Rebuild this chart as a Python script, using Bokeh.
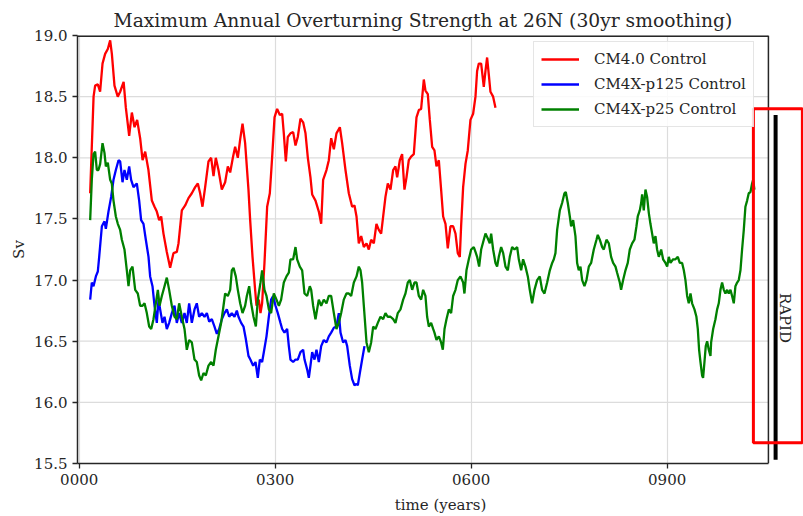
import numpy as np
from bokeh.plotting import figure
from bokeh.models import Range1d, FixedTicker, Legend, LegendItem, PrintfTickFormatter
from bokeh.embed import file_html
from bokeh.resources import INLINE
from bokeh.core.properties import value

# --- data: maximum AMOC strength at 26N, 30-yr smoothed (Sv) ---
cm40_years = [16.8, 22, 24.4, 28.5, 32, 35.7, 39.7, 43.8, 47.4, 50, 54, 59, 62.7, 68, 71.4, 76.5,
              80.6, 84.7, 88.7, 93.3, 97, 101, 106, 111.2, 115.3, 118.8, 122.4, 125.5, 129, 134.1,
              139.2, 144.3, 149.4, 152, 157.1, 162.2, 167.3, 172.4, 177.5, 181.6, 185.1, 188.7,
              192.8, 197.9, 202, 205.6, 209.1, 213.2, 218.3, 223.4, 227.5, 231.1, 235.2, 238.7,
              242.8, 246.4, 250, 254, 259.1, 261.7, 265.3, 269.3, 271.4, 275, 277.5, 280, 283.6,
              287.7, 291.8, 295.4, 299, 303, 307.1, 310.7, 313.2, 316.3, 319.3, 323.4, 327.5,
              331.1, 334.6, 338.7, 342.8, 346.4, 350, 354, 356.6, 361.7, 366.8, 370.4, 373.4,
              378.5, 382.1, 385.7, 389.8, 393.8, 399, 402.5, 407.6, 412.7, 417.8, 421.4, 424.5,
              428, 431.6, 435.7, 439.8, 443.3, 446.9, 451, 455, 458.6, 462.2, 465.3, 468.8, 472.4,
              476.5, 480.6, 484.1, 486.7, 490.8, 494.3, 497.9, 501, 504.5, 508.1, 512.2, 516.3,
              519.9, 523.4, 527.5, 530, 533.6, 536.7, 540.3, 543.8, 546.9, 550.5, 554, 557.1,
              560.7, 564.2, 568.3, 572.4, 576, 579.5, 582.6, 584.6, 587.7, 591.3, 594.8, 598.9,
              603, 606.6, 609.1, 611.7, 615.3, 619.3, 621.9, 624.4, 627, 629.5, 633.6, 637.2]
cm40_sv = [17.71, 18.50, 18.59, 18.60, 18.54, 18.77, 18.85, 18.89, 18.96, 18.85, 18.59, 18.50,
           18.54, 18.62, 18.41, 18.18, 18.37, 18.25, 18.31, 18.16, 17.98, 18.05, 17.90, 17.65,
           17.60, 17.56, 17.49, 17.52, 17.38, 17.23, 17.10, 17.22, 17.23, 17.30, 17.57, 17.61,
           17.67, 17.71, 17.76, 17.79, 17.71, 17.60, 17.76, 17.97, 18.00, 17.85, 18.00, 17.90,
           17.74, 17.80, 17.93, 17.88, 18.00, 18.09, 18.00, 18.15, 18.28, 18.12, 17.74, 17.49,
           17.19, 16.92, 16.79, 16.84, 16.73, 16.81, 17.14, 17.60, 17.71, 18.01, 18.33, 18.40,
           18.35, 18.36, 18.20, 17.97, 18.17, 18.20, 18.21, 18.10, 18.17, 18.32, 18.29, 18.20,
           18.00, 17.84, 17.70, 17.65, 17.56, 17.46, 17.82, 17.90, 17.98, 18.16, 18.07, 18.20,
           18.25, 18.12, 17.90, 17.71, 17.60, 17.61, 17.52, 17.30, 17.36, 17.27, 17.30, 17.25,
           17.33, 17.30, 17.46, 17.41, 17.38, 17.52, 17.68, 17.79, 17.74, 17.90, 17.93, 17.84,
           17.98, 18.03, 17.74, 17.84, 17.98, 18.01, 18.03, 18.33, 18.39, 18.40, 18.64, 18.55,
           18.52, 18.31, 18.09, 18.06, 17.93, 17.98, 17.74, 17.52, 17.46, 17.26, 17.44, 17.44,
           17.38, 17.22, 17.19, 17.44, 17.76, 17.95, 18.06, 18.31, 18.36, 18.50, 18.71, 18.77,
           18.77, 18.58, 18.71, 18.82, 18.68, 18.54, 18.50, 18.41]

p125_years = [16.8, 19.3, 21.9, 25.5, 28.5, 30.6, 34.7, 38.7, 40.8, 44.8, 48.9, 52.5, 56.1, 60.2,
              62.7, 66.3, 69.3, 72.9, 76.5, 79.5, 83.1, 88.2, 91.8, 94.8, 98.4, 102, 106.1, 108.6,
              112.2, 115.3, 118.8, 121.4, 123.9, 127.5, 130.6, 134.1, 137.7, 141.8, 145.9, 149.4,
              153, 157.1, 161.2, 164.7, 168.3, 172.4, 176.5, 180, 183.6, 187.7, 191.8, 195.4, 199,
              203, 207.1, 210.7, 214.2, 218.3, 222.4, 226, 229.6, 233.6, 237.7, 241.3, 243.8,
              247.9, 251.5, 255, 259.1, 262, 266.3, 269.9, 273.4, 276.5, 280, 282.6, 286.7, 290.3,
              293.8, 296.9, 300.5, 304, 308.1, 310.7, 314.2, 318.3, 320.9, 323.4, 327.5, 331.1,
              334.6, 338.7, 342.8, 344.9, 348.9, 351.5, 354, 356.6, 360.2, 363.2, 366.8, 370.4,
              374.4, 378.5, 382.1, 385.7, 389.8, 393.8, 397.4, 400, 404, 407.6, 410.2, 414.2,
              417.8, 421.4, 424.5, 426.5, 429.6, 433.1, 436.7]
p125_sv = [16.84, 16.98, 16.95, 17.03, 17.07, 17.19, 17.44, 17.48, 17.42, 17.56, 17.68, 17.82,
           17.90, 17.98, 17.97, 17.80, 17.90, 17.82, 17.93, 17.82, 17.76, 17.79, 17.65, 17.49,
           17.46, 17.33, 17.19, 17.03, 16.95, 16.79, 16.65, 16.84, 16.76, 16.65, 16.70, 16.60,
           16.65, 16.73, 16.79, 16.65, 16.73, 16.65, 16.73, 16.65, 16.81, 16.65, 16.76, 16.81,
           16.70, 16.73, 16.70, 16.73, 16.66, 16.68, 16.62, 16.56, 16.60, 16.68, 16.73, 16.76,
           16.70, 16.73, 16.70, 16.75, 16.70, 16.65, 16.62, 16.52, 16.38, 16.35, 16.30, 16.33,
           16.20, 16.35, 16.33, 16.41, 16.54, 16.70, 16.84, 16.87, 16.79, 16.73, 16.65, 16.60,
           16.57, 16.60, 16.46, 16.35, 16.33, 16.35, 16.35, 16.41, 16.43, 16.35, 16.27, 16.20,
           16.30, 16.41, 16.35, 16.43, 16.33, 16.46, 16.51, 16.49, 16.54, 16.57, 16.61, 16.62,
           16.73, 16.57, 16.49, 16.51, 16.46, 16.30, 16.19, 16.14, 16.15, 16.14, 16.24, 16.35,
           16.46]

p25_years = [16.8, 19.3, 21.9, 24.4, 27, 29.5, 32.1, 35.7, 38.7, 40.8, 43.8, 47.4, 49.9, 52.5,
             56.1, 59.1, 62.7, 65.3, 69.3, 72.9, 75.5, 78, 81.6, 85.7, 89.7, 93.3, 96.9, 100,
             103.5, 107.1, 110.2, 113.7, 117.3, 120.4, 123, 126.5, 130.6, 134.1, 137.7, 141.8,
             145.9, 149.4, 153, 157.1, 161.2, 164.7, 168.3, 172.4, 176.5, 180, 183.6, 186.7,
             190.3, 193.8, 197.9, 202, 205.6, 209.1, 213.2, 217.3, 220.9, 223.4, 227.5, 231.1,
             233.6, 236.2, 239.7, 242.8, 246.4, 250, 254, 256.6, 260.2, 263.2, 266.8, 270.4,
             273.4, 277.5, 280, 283.6, 286.7, 290.3, 293.8, 297.9, 302, 305.6, 309.1, 313.2,
             317.3, 320.9, 323.4, 327.5, 331.1, 333.6, 337.7, 341.3, 344.9, 348.9, 353, 355.1,
             358.1, 361.7, 364.2, 366.8, 370.4, 374.4, 378.5, 382.1, 385.7, 389.8, 393.8, 397.4,
             401, 405, 409.1, 412.7, 416.3, 420.4, 424.5, 428, 430.6, 433.1, 435.7, 439.8, 443.3,
             446.9, 450, 453.5, 457.1, 461.2, 465.3, 468.8, 472.4, 476.5, 480.6, 484.1, 487.7,
             491.8, 495.9, 499.4, 503, 506.1, 509.7, 513.2, 516.3, 519.9, 523.4, 526.5, 530,
             532.6, 535.2, 538.7, 541.8, 543.8, 546.9, 550.5, 554, 556.6, 559.2, 562.2, 565.8,
             569.3, 572.4, 576, 579.5, 583.6, 587.7, 589.7, 592.8, 596.4, 600, 604, 606.6, 609.1,
             612.2, 615.3, 619.3, 621.9, 625.5, 628.5, 630.6, 633.6, 637.2, 639.7, 642.3, 645.9,
             649, 652.5, 656.1, 659.1, 662.7, 666.3, 670.4, 672.9, 676.5, 679.5, 683.1, 686.7,
             689.7, 693.3, 696.9, 701, 705, 708.6, 712.2, 716.3, 720.4, 724, 726.5, 729, 731.6,
             735.7, 739.2, 742.8, 744.8, 747.9, 751, 753, 756.1, 759.6, 762.2, 764.7, 767.3,
             769.9, 773.4, 776.5, 780.1, 783.6, 787.7, 791.8, 793.8, 796.9, 800.5, 803, 807.1,
             810.7, 814.2, 817.3, 820.9, 823.4, 827.5, 829.5, 832.6, 836.2, 839.7, 842.8, 846.4,
             849.9, 853, 855, 858.1, 860.2, 861.7, 864.2, 866.8, 869.3, 871.9, 874.4, 877, 879.5,
             882.1, 884.6, 887.2, 890.8, 893.8, 897.4, 900, 902.5, 905.1, 909.1, 912.7, 916.3,
             919.3, 922.9, 925.5, 928, 930.6, 933.1, 935.7, 938.2, 941.8, 944.8, 946.9, 948.9,
             951, 953.5, 955, 957.1, 959.1, 961.2, 963.7, 966.3, 967.3, 970.4, 973.9, 976.5, 979,
             981.6, 984.1, 986.7, 989.2, 991.8, 994.3, 996.9, 999.4, 1002, 1004.5, 1007.1,
             1009.6, 1012.2, 1014.7, 1017.3, 1019.8, 1022.4, 1024.9, 1027.5, 1030, 1031.6, 1033.6]
p25_sv = [17.49, 17.82, 18.03, 18.05, 17.90, 17.90, 17.95, 18.12, 18.04, 17.93, 17.96, 17.82,
          17.79, 17.65, 17.52, 17.46, 17.41, 17.33, 17.25, 17.08, 16.95, 17.08, 17.11, 16.92,
          16.89, 16.79, 16.79, 16.81, 16.73, 16.62, 16.60, 16.68, 16.81, 16.92, 16.79, 16.87,
          16.95, 17.02, 16.92, 16.79, 16.70, 16.68, 16.81, 16.70, 16.60, 16.43, 16.51, 16.49,
          16.35, 16.33, 16.22, 16.18, 16.24, 16.22, 16.30, 16.33, 16.30, 16.43, 16.54, 16.65,
          16.79, 16.89, 16.87, 16.92, 17.08, 17.10, 17.03, 16.92, 16.81, 16.73, 16.79, 16.87,
          16.95, 16.81, 16.70, 16.62, 16.84, 16.98, 17.08, 16.92, 16.87, 16.76, 16.73, 16.89,
          16.84, 16.79, 16.84, 16.98, 17.03, 17.06, 17.17, 17.17, 17.27, 17.17, 17.11, 17.08,
          16.89, 16.87, 16.95, 16.92, 16.79, 16.68, 16.76, 16.84, 16.79, 16.84, 16.81, 16.87,
          16.87, 16.73, 16.60, 16.65, 16.73, 16.84, 16.89, 16.89, 16.87, 16.98, 17.03, 17.11,
          17.08, 16.98, 16.79, 16.49, 16.41, 16.49, 16.62, 16.60, 16.65, 16.70, 16.68, 16.73,
          16.70, 16.70, 16.68, 16.65, 16.73, 16.76, 16.84, 16.89, 16.98, 17.00, 16.92, 16.98,
          16.98, 16.87, 16.84, 16.92, 16.87, 16.70, 16.62, 16.65, 16.60, 16.57, 16.51, 16.54,
          16.49, 16.43, 16.60, 16.68, 16.76, 16.73, 16.87, 16.92, 17.00, 17.03, 16.98, 16.89,
          17.08, 17.17, 17.25, 17.27, 17.23, 17.19, 17.11, 17.25, 17.33, 17.38, 17.34, 17.30,
          17.38, 17.25, 17.14, 17.11, 17.19, 17.27, 17.22, 17.11, 17.08, 17.19, 17.27, 17.25,
          17.27, 17.17, 17.08, 17.17, 17.11, 17.03, 16.92, 16.81, 16.92, 17.00, 17.03, 16.92,
          16.89, 16.98, 17.08, 17.14, 17.17, 17.22, 17.41, 17.57, 17.63, 17.71, 17.72, 17.63,
          17.52, 17.44, 17.49, 17.36, 17.14, 17.08, 17.11, 17.00, 16.95, 17.00, 17.11, 17.14,
          17.25, 17.33, 17.37, 17.33, 17.27, 17.25, 17.33, 17.30, 17.19, 17.14, 17.11, 17.06,
          16.98, 16.92, 17.00, 17.08, 17.14, 17.25, 17.30, 17.33, 17.44, 17.52, 17.57, 17.63,
          17.70, 17.57, 17.74, 17.68, 17.55, 17.46, 17.38, 17.30, 17.36, 17.25, 17.19, 17.25,
          17.17, 17.14, 17.11, 17.19, 17.14, 17.17, 17.17, 17.19, 17.14, 17.14, 17.08, 17.00,
          16.87, 16.81, 16.89, 16.81, 16.76, 16.70, 16.60, 16.43, 16.33, 16.22, 16.20, 16.33,
          16.46, 16.50, 16.43, 16.38, 16.49, 16.60, 16.68, 16.76, 16.81, 16.92, 16.98, 16.92,
          16.89, 16.92, 16.89, 16.92, 16.87, 16.81, 16.95, 16.98, 17.00, 17.08, 17.25, 17.41,
          17.60, 17.65, 17.71, 17.72, 17.79, 17.82, 17.74]

series_labels = ["CM4.0 Control", "CM4X-p125 Control", "CM4X-p25 Control"]
x_ticks = [0, 300, 600, 900]
x_tick_labels = ["0000", "0300", "0600", "0900"]
y_ticks = [15.5, 16.0, 16.5, 17.0, 17.5, 18.0, 18.5, 19.0]
y_tick_labels = ["15.5", "16.0", "16.5", "17.0", "17.5", "18.0", "18.5", "19.0"]

SERIF = "DejaVu Serif"
INK = "#262626"
GRID = "#dcdcdc"

# plotting window; the frame runs past the axes box to hold the RAPID marker
X_START, X_END = -2.6, 1108.7
X_AXIS_END = 1055.0
Y_START, Y_END = 15.5, 19.0

p = figure(width=803, height=516,
           x_range=Range1d(X_START, X_END), y_range=Range1d(Y_START, Y_END),
           output_backend="svg", toolbar_location=None,
           min_border_left=77, min_border_right=0, min_border_top=35, min_border_bottom=52,
           title="Maximum Annual Overturning Strength at 26N (30yr smoothing)")
p.background_fill_color = "white"
p.border_fill_color = "white"
p.outline_line_color = None

p.title.text_font = SERIF
p.title.text_font_size = "18.7px"
p.title.text_font_style = "normal"
p.title.text_color = INK
p.title.align = "left"
p.title.offset = 36

# vertical grid from the axis ticks, horizontal grid stopped at the axes box
p.xgrid.ticker = FixedTicker(ticks=x_ticks)
p.xgrid.grid_line_color = GRID
p.xgrid.grid_line_width = 1.2
p.ygrid.visible = False
p.segment(x0=[X_START] * len(y_ticks), x1=[X_AXIS_END] * len(y_ticks), y0=y_ticks, y1=y_ticks,
          line_color=GRID, line_width=1.2)

# axes
p.xaxis.ticker = FixedTicker(ticks=x_ticks)
p.xaxis.major_label_overrides = dict(zip(x_ticks, x_tick_labels))
p.xaxis.bounds = (X_START, X_AXIS_END)
p.xaxis.axis_label = "time (years)"
p.yaxis.ticker = FixedTicker(ticks=y_ticks)
p.yaxis.formatter = PrintfTickFormatter(format="%.1f")
p.yaxis.major_label_overrides = dict(zip(y_ticks, y_tick_labels))
p.yaxis.axis_label = "Sv"
for ax in (p.xaxis[0], p.yaxis[0]):
    ax.axis_line_color = INK
    ax.axis_line_width = 1.5
    ax.major_tick_line_color = INK
    ax.major_tick_line_width = 1.3
    ax.major_tick_out = 5
    ax.major_tick_in = 0
    ax.minor_tick_line_color = None
    ax.major_label_text_font = SERIF
    ax.major_label_text_font_size = "15px"
    ax.major_label_text_color = INK
    ax.major_label_standoff = 5
    ax.axis_label_text_font = SERIF
    ax.axis_label_text_font_size = "15px"
    ax.axis_label_text_font_style = "normal"
    ax.axis_label_text_color = INK
p.xaxis.axis_label_standoff = 8
p.yaxis.axis_label_standoff = 3

# top and right edges of the axes box
p.segment(x0=[X_START, X_AXIS_END], y0=[Y_END, Y_START], x1=[X_AXIS_END, X_AXIS_END],
          y1=[Y_END, Y_END], line_color=INK, line_width=[3, 1.5])

# model time series
r40 = p.line(cm40_years, cm40_sv, line_color="red", line_width=2.3)
r125 = p.line(p125_years, p125_sv, line_color="blue", line_width=2.3)
r25 = p.line(p25_years, p25_sv, line_color="green", line_width=2.3)

# RAPID observational marker with its highlight box
p.segment(x0=[1066], y0=[15.53], x1=[1066], y1=[18.35], line_color="black", line_width=4)
p.quad(left=[1032], right=[1107], bottom=[15.67], top=[18.40],
       fill_color=None, line_color="red", line_width=3)
p.text(x=[1081], y=[16.69], text=["RAPID"], angle=-np.pi / 2,
       text_font=value(SERIF), text_font_size="15px", text_color=INK,
       text_align="center", text_baseline="middle")

legend = Legend(items=[LegendItem(label=series_labels[0], renderers=[r40]),
                       LegendItem(label=series_labels[1], renderers=[r125]),
                       LegendItem(label=series_labels[2], renderers=[r25])],
                location=(456, 336))
legend.border_line_color = "#cccccc"
legend.border_line_width = 1
legend.background_fill_alpha = 0.85
legend.padding = 7
legend.spacing = 5
legend.margin = 0
legend.glyph_width = 38
legend.glyph_height = 20
legend.label_height = 20
legend.label_standoff = 15
legend.label_text_font = SERIF
legend.label_text_font_size = "15px"
legend.label_text_color = INK
p.add_layout(legend)

open("out.html", "w").write(file_html(p, INLINE))
